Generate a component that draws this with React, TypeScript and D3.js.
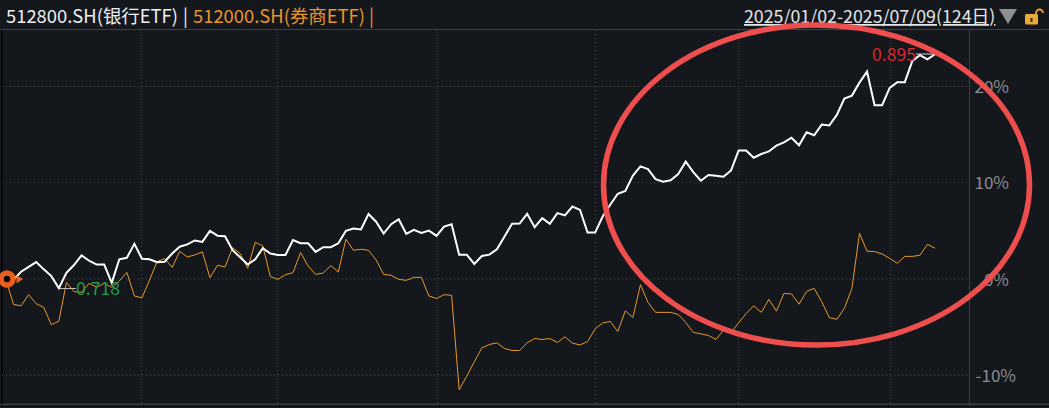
import React from "react";
import * as d3 from "d3";

const bankEtf = [0,-0.1,0.7,1.2,1.7,0.95,0.25,-1.0,0.6,1.4,2.4,1.85,1.45,1.45,-0.45,2.0,2.15,3.6,2.05,2.0,1.7,1.75,2.6,3.3,3.55,3.95,3.8,4.95,4.45,4.4,2.95,2.2,1.45,2.0,3.15,2.6,2.45,2.45,4.0,3.66,3.66,2.76,3.25,3.25,3.66,4.95,5.2,5.1,6.7,5.9,4.67,5.64,6.16,4.64,5.05,4.74,4.98,4.43,5.4,5.64,2.48,2.48,1.51,2.34,2.48,3.04,4.36,5.68,5.71,6.72,5.33,6.27,5.68,6.79,6.55,7.48,7.13,4.77,4.77,6.44,7.66,8.8,9.1,10.7,11.65,11.37,10.33,10.05,10.2,10.85,12.14,11.06,10.16,10.75,10.68,10.57,11.23,13.3,13.3,12.55,12.93,13.2,13.8,14.15,14.63,13.84,15.2,14.88,15.99,15.9,17.0,18.7,19.0,20.35,21.5,18.0,18.0,19.8,20.4,20.4,22.6,23.2,22.76,23.3];
const brokerEtf = [-0.15,-2.7,-2.83,-1.68,-2.62,-3.0,-4.8,-4.43,-0.4,-1.37,-1.44,-0.5,-0.92,-0.5,-0.92,-0.26,0.64,-1.82,-2.0,-0.16,1.75,2.07,1.16,2.83,2.24,2.45,2.76,0.09,1.37,1.2,3.2,2.6,1.06,3.77,3.39,0.19,-0.09,0.4,0.6,2.7,1.3,0.43,0.57,1.34,0.68,4.08,2.93,3.04,2.93,1.93,0.43,0.33,-0.09,-0.19,0.12,0.12,-1.82,-2.07,-1.68,-1.75,-11.55,-10.16,-8.66,-7.2,-6.86,-6.68,-7.27,-7.48,-7.48,-6.68,-6.23,-6.34,-6.23,-6.65,-6.06,-6.72,-6.9,-6.55,-5.23,-4.62,-4.46,-5.5,-3.35,-4.05,-0.64,-2.48,-3.52,-3.52,-3.52,-3.73,-4.57,-5.6,-5.75,-5.92,-6.34,-5.36,-5.6,-4.6,-3.63,-2.83,-3.52,-2.17,-3.39,-1.55,-1.61,-2.66,-1.34,-1.02,-2.41,-4.05,-4.25,-3.1,-1.02,4.7,2.83,2.8,2.55,2.1,1.58,2.3,2.3,2.41,3.56,3.14];
const yTicks = [20, 10, 0, -10];
const monthStartIndex = [17.9, 35.9, 57.1, 78, 96.9, 117.1];
const bankLabel = "512800.SH(银行ETF)";
const brokerLabel = "512000.SH(券商ETF)";
const dateRange = "2025/01/02-2025/07/09(124日)";
const maxLabel = "0.895";
const minLabel = "0.718";

const W = 1049, H = 408;
const x = d3.scaleLinear().domain([0, 123]).range([6, 935]);
const y = d3.scaleLinear().domain([0, 20]).range([278.5, 86]);
const lineGen = d3.line<number>().x((_, i) => x(i)).y((d) => y(d));
const FONT = '"Noto Sans CJK SC", "Noto Sans", sans-serif';

export default function App() {
  return (
    <svg width={W} height={H} viewBox={`0 0 ${W} ${H}`}
      style={{ position: "absolute", left: 0, top: 0, display: "block", background: "#14171c", fontFamily: FONT }}>
      <rect x={0} y={29} width={W} height={1} fill="#3c3f44" />
      <rect x={0} y={403.5} width={W} height={1.5} fill="#3c3f44" />
      <rect x={1} y={30} width={1.5} height={374} fill="#000" />
      <rect x={969} y={30} width={1} height={374} fill="#3c3f44" />
      {yTicks.map((t) => (
        <line key={t} x1={2} x2={969} y1={y(t) + 0.5} y2={y(t) + 0.5} stroke="#46494e" strokeWidth={1} strokeDasharray="1 3" />
      ))}
      {monthStartIndex.map((m) => (
        <line key={m} x1={Math.round(x(m)) + 0.5} x2={Math.round(x(m)) + 0.5} y1={30} y2={403} stroke="#46494e" strokeWidth={1} strokeDasharray="1 3" />
      ))}
      <path d={lineGen(brokerEtf) ?? ""} fill="none" stroke="#e8992a" strokeWidth={1} />
      <path d={lineGen(bankEtf) ?? ""} fill="none" stroke="#fff" strokeWidth={2} />

      {yTicks.map((t) => (
        <text key={t} x={t === -10 ? 1016 : 1009} y={y(t) + 7} textAnchor="end" fontSize={17} fill="#8b8c8e">{t}%</text>
      ))}

      <text x={6} y={23} fontSize={18.4} fill="#eceff1">{bankLabel}</text>
      <text x={183} y={23} fontSize={18.4} fill="#eceff1">|</text>
      <text x={193} y={23} fontSize={18.4} fill="#e8952a">{brokerLabel} |</text>

      <text x={744} y={23} fontSize={17.8} fill="#e4e6e8" textDecoration="underline">{dateRange}</text>
      <path d="M999,9 L1017,9 L1008,24 Z" fill="#8f8f8f" />
      <g>
        <rect x={1025} y={14} width={13} height={10.5} rx={1.5} fill="#e8ab3a" />
        <rect x={1030.5} y={18} width={2} height={4} fill="#3a2a08" />
        <path d="M1036,14 V13 a3.5,3.5 0 0 1 7,0" fill="none" stroke="#e8ab3a" strokeWidth={1.8} />
      </g>

      <line x1={x(7) + 1} x2={76} y1={288.5} y2={288.5} stroke="#bbb" strokeWidth={1} />
      <text x={76} y={295} fontSize={17.6} fill="#1f9d4d">{minLabel}</text>
      <line x1={916} x2={936} y1={54} y2={54} stroke="#ddd" strokeWidth={1} />
      <text x={872} y={61} fontSize={17.6} fill="#d4292f">{maxLabel}</text>

      <circle cx={7} cy={279} r={6} fill="#000" stroke="#e8601c" strokeWidth={5.5} />
      <path d="M16.5,275 L23,279 L16.5,283.5 Z" fill="#e8601c" />

      <ellipse cx={816.5} cy={185} rx={213} ry={160} fill="none" stroke="#ee4f4e" strokeWidth={5.5} />
    </svg>
  );
}
